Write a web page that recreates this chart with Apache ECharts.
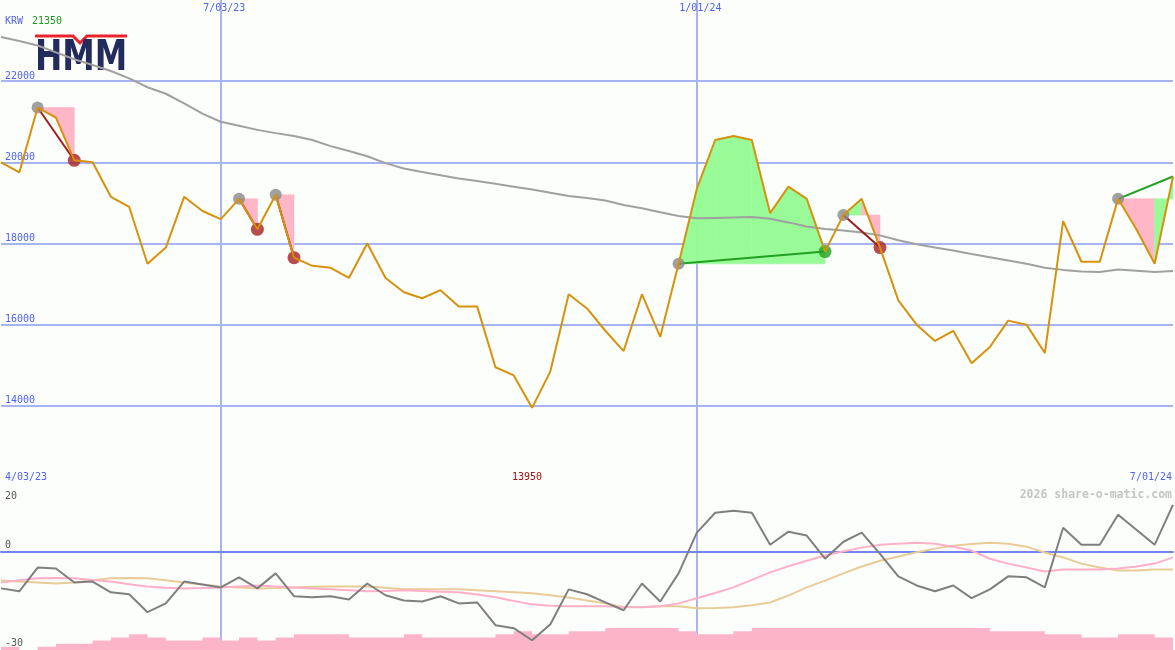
<!DOCTYPE html>
<html><head><meta charset="utf-8">
<script src="https://cdn.jsdelivr.net/npm/echarts@6/dist/echarts.min.js"></script>
<style>html,body{margin:0;padding:0;background:#fcfefc}#c{width:1175px;height:650px}</style>
</head><body><div id="c"></div>
<script>
// ---- data ----
const dates = ['4/10/23','4/17/23','4/24/23','5/01/23','5/08/23','5/15/23','5/22/23','5/29/23','6/05/23','6/12/23',
  '6/19/23','6/26/23','7/03/23','7/10/23','7/17/23','7/24/23','7/31/23','8/07/23','8/14/23','8/21/23',
  '8/28/23','9/04/23','9/11/23','9/18/23','9/25/23','10/02/23','10/09/23','10/16/23','10/23/23','10/30/23',
  '11/06/23','11/13/23','11/20/23','11/27/23','12/04/23','12/11/23','12/18/23','12/25/23','1/01/24','1/08/24',
  '1/15/24','1/22/24','1/29/24','2/05/24','2/12/24','2/19/24','2/26/24','3/04/24','3/11/24','3/18/24',
  '3/25/24','4/01/24','4/08/24','4/15/24','4/22/24','4/29/24','5/06/24','5/13/24','5/20/24','5/27/24',
  '6/03/24','6/10/24','6/17/24','6/24/24','7/01/24'];
const markDates = ['7/03/23','1/01/24'];
const rangeLabels = ['4/03/23','7/01/24'];
const currency = 'KRW';
const credit = '2026 share-o-matic.com';

const price = [20000,19750,21350,21100,20050,20000,19150,18900,17500,17900,
  19150,18800,18600,19100,18350,19200,17650,17450,17400,17150,
  18000,17150,16800,16650,16850,16450,16450,14950,14750,13950,
  14850,16750,16400,15850,15350,16750,15700,17500,19350,20550,
  20650,20550,18750,19400,19100,17800,18700,19100,17900,16600,
  16000,15600,15850,15050,15450,16100,16000,15300,18550,17550,
  17550,19100,18350,17500,19650];
const ma = [23090,22990,22880,22710,22540,22400,22250,22070,21850,21690,
  21450,21200,21000,20900,20800,20720,20650,20550,20400,20280,
  20150,19980,19850,19760,19680,19600,19540,19470,19400,19330,
  19250,19170,19120,19060,18950,18870,18770,18680,18620,18630,
  18640,18650,18610,18520,18420,18360,18320,18270,18200,18080,
  17980,17900,17830,17740,17660,17580,17500,17400,17350,17310,
  17300,17360,17330,17300,17320];
const signalStart = [2,13,15,37,46,61];
const signalEnd   = [4,14,16,45,48,64];
const signalOpen  = [false,false,false,false,false,true];

const momentum = [-11.1,-12.0,-4.7,-5.0,-9.3,-9.0,-12.3,-12.9,-18.4,-15.7,
  -9.0,-9.9,-10.8,-7.7,-11.1,-6.5,-13.5,-13.8,-13.5,-14.5,
  -9.6,-13.2,-14.8,-15.1,-13.5,-15.7,-15.4,-22.4,-23.3,-27.0,
  -22.1,-11.4,-12.9,-15.4,-17.8,-9.6,-15.1,-6.5,6.0,12.1,
  12.7,12.1,2.3,6.3,5.1,-2.0,3.2,6.0,-0.5,-7.4,
  -10.2,-12.0,-10.2,-14.1,-11.4,-7.4,-7.7,-10.8,7.5,2.3,
  2.3,11.5,6.9,2.3,14.5];
const pinkAvg = [-9.3,-8.6,-8.0,-7.9,-8.0,-8.5,-9.0,-9.8,-10.5,-10.9,
  -11.1,-11.0,-10.8,-10.5,-10.2,-10.5,-10.8,-11.1,-11.4,-11.7,
  -12.0,-11.9,-11.7,-11.9,-12.1,-12.3,-13.0,-13.8,-15.0,-16.0,
  -16.4,-16.6,-16.6,-16.6,-16.8,-16.9,-16.6,-15.7,-14.1,-12.5,
  -10.8,-8.5,-6.2,-4.3,-2.6,-1.0,0.3,1.4,2.3,2.6,
  2.9,2.6,1.7,0.5,-2.0,-3.5,-4.7,-5.9,-5.3,-5.3,
  -5.3,-5.0,-4.4,-3.5,-1.6];
const tanAvg = [-8.7,-9.0,-9.3,-9.6,-9.3,-8.6,-8.0,-7.9,-8.0,-8.6,
  -9.3,-9.9,-10.5,-10.8,-11.1,-11.0,-10.8,-10.6,-10.5,-10.5,
  -10.5,-10.9,-11.4,-11.4,-11.4,-11.4,-11.7,-12.0,-12.3,-12.6,
  -13.2,-13.9,-14.8,-15.7,-16.9,-16.8,-16.6,-16.6,-17.2,-17.1,
  -16.9,-16.3,-15.4,-13.3,-10.8,-8.7,-6.5,-4.4,-2.6,-1.3,
  0.0,1.1,2.0,2.5,2.9,2.6,1.7,-0.1,-1.6,-3.5,
  -4.7,-5.6,-5.6,-5.3,-5.3];
const volumeBars = [1,0,1,2,2,3,4,5,4,3,
  3,4,3,4,3,4,5,5,5,4,
  4,4,5,4,4,4,4,5,6,5,
  5,6,6,7,7,7,7,6,5,5,
  6,7,7,7,7,7,7,7,7,7,
  7,7,7,7,6,6,6,5,5,4,
  4,5,5,4,4];

// ---- styles ----
const MONO = '"DejaVu Sans Mono", monospace';
const BLUE = '#5062f0';
const GRIDC = '#a6b4f4';
const PINK = '#ffb6c6';
const GREEN = '#98fb98';
const isMark = (i, v) => markDates.indexOf(v) >= 0;

// fills between signal start level and price, per segment
const fillData = [];
signalStart.forEach((s, n) => {
  const e = signalEnd[n], lvl = price[s];
  for (let k = s; k < e; k++) fillData.push([k, lvl, price[k], price[k + 1], price[k + 1] > lvl ? 1 : 0]);
});
const connectorSeries = signalStart.map((s, n) => {
  const e = signalEnd[n];
  const up = price[e] > price[s];
  return {type: 'line', xAxisIndex: 0, yAxisIndex: 0, z: 3, silent: true, symbol: 'none',
    data: [[s, price[s]], [e, price[e]]],
    lineStyle: {color: up ? '#22a022' : '#a01c1c', width: 2}};
});
const startPts = signalStart.map(s => [s, price[s]]);
const endPts = [];
signalEnd.forEach((e, n) => {
  if (signalOpen[n]) return;
  const up = price[e] > price[signalStart[n]];
  endPts.push({value: [e, price[e]], itemStyle: {color: up ? '#22a022' : '#a82020'}});
});
const maxVal = Math.max(...price), minVal = Math.min(...price);

const chart = echarts.init(document.getElementById('c'));
chart.setOption({
  animation: false,
  backgroundColor: '#fcfefc',
  grid: [
    {left: 1, right: 2, top: 0, height: 487, containLabel: false, outerBoundsMode: 'none'},
    {left: 1, right: 2, top: 487, bottom: 0, containLabel: false, outerBoundsMode: 'none'}
  ],
  xAxis: [
    {type: 'category', gridIndex: 0, data: dates, boundaryGap: false, position: 'top',
      axisLine: {show: false}, axisTick: {show: false},
      axisLabel: {inside: true, interval: isMark, margin: 3, verticalAlign: 'top', padding: [0, 0, 0, 7],
        color: BLUE, fontFamily: MONO, fontSize: 10},
      splitLine: {show: true, interval: isMark, lineStyle: {color: GRIDC, width: 2}}},
    {type: 'category', gridIndex: 1, data: dates, boundaryGap: false, position: 'top',
      axisLine: {show: true, lineStyle: {color: '#7486ee', width: 2}}, axisTick: {show: false},
      axisLabel: {show: false},
      splitLine: {show: true, interval: isMark, lineStyle: {color: GRIDC, width: 2}}}
  ],
  yAxis: [
    {type: 'value', gridIndex: 0, min: 12000, max: 24000, interval: 2000,
      axisLine: {show: false}, axisTick: {show: false},
      axisLabel: {inside: true, margin: 4, verticalAlign: 'bottom', color: BLUE,
        fontFamily: MONO, fontSize: 10, showMinLabel: false, showMaxLabel: false,
        formatter: v => String(v)},
      splitLine: {show: true, showMinLine: false, showMaxLine: false, lineStyle: {color: GRIDC, width: 2}}},
    {type: 'value', gridIndex: 1, min: -30, max: 20, interval: 10,
      axisLine: {show: false}, axisTick: {show: false},
      axisLabel: {inside: true, margin: 4, verticalAlign: 'middle', lineHeight: 12,
        color: '#555', fontFamily: MONO, fontSize: 10,
        formatter: v => v === 20 ? '{dn|20}' : (v === 0 || v === -30) ? '{up|' + v + '}' : '',
        rich: {up: {padding: [0, 0, 13, 0]}, dn: {padding: [18, 0, 0, 0]}}},
      splitLine: {show: true, lineStyle: {color: ['transparent', 'transparent', 'transparent', GRIDC, 'transparent', 'transparent'], width: 2}}},
    {type: 'value', gridIndex: 1, min: 0, max: 52, show: false, splitLine: {show: false}}
  ],
  series: [
    {type: 'custom', xAxisIndex: 0, yAxisIndex: 0, z: 1, silent: true, data: fillData,
      encode: {x: 0, y: 1},
      renderItem: (params, api) => {
        const k = api.value(0), lvl = api.value(1), a = api.value(2), b = api.value(3), up = api.value(4);
        const pts = [api.coord([k, lvl]), api.coord([k, a]), api.coord([k + 1, b]), api.coord([k + 1, lvl])];
        const c = up ? GREEN : PINK;
        return {type: 'polygon', shape: {points: pts}, style: {fill: c, stroke: c, lineWidth: 0.6}};
      }},
    {type: 'line', xAxisIndex: 0, yAxisIndex: 0, z: 2, silent: true, data: ma, symbol: 'none',
      lineStyle: {color: '#a0a0a0', width: 2}},
    ...connectorSeries,
    {type: 'scatter', xAxisIndex: 0, yAxisIndex: 0, z: 4, silent: true, data: startPts,
      symbolSize: 12, itemStyle: {color: '#888888'}},
    {type: 'scatter', xAxisIndex: 0, yAxisIndex: 0, z: 4, silent: true, data: endPts, symbolSize: 13},
    {type: 'line', xAxisIndex: 0, yAxisIndex: 0, z: 5, silent: true, data: price, symbol: 'none',
      lineStyle: {color: '#d6920c', width: 2}},
    {type: 'line', xAxisIndex: 1, yAxisIndex: 2, z: 1, silent: true, data: volumeBars, step: 'end',
      symbol: 'none', lineStyle: {width: 0, opacity: 0},
      areaStyle: {color: '#fbb4c8', opacity: 1, origin: 'start'}},
    {type: 'line', xAxisIndex: 1, yAxisIndex: 1, z: 2, silent: true, data: tanAvg, symbol: 'none',
      lineStyle: {color: '#e8cc98', width: 2}},
    {type: 'line', xAxisIndex: 1, yAxisIndex: 1, z: 2, silent: true, data: pinkAvg, symbol: 'none',
      lineStyle: {color: '#ffb0c8', width: 2}},
    {type: 'line', xAxisIndex: 1, yAxisIndex: 1, z: 3, silent: true, data: momentum, symbol: 'none',
      lineStyle: {color: '#7f7f7f', width: 2}}
  ],
  graphic: [
    {type: 'polyline', z: 0, silent: true,
      shape: {points: [[35, 36], [73, 36], [80, 43], [87, 36], [127, 36]]},
      style: {stroke: '#e8232b', lineWidth: 3, fill: null}},
    {type: 'text', z: 0, silent: true, x: 35, y: 37, scaleX: 0.76,
      style: {text: 'HMM', fill: '#232a5c', font: 'bold 43px "DejaVu Sans"', textAlign: 'left', textVerticalAlign: 'top'}},
    {type: 'text', z: 10, x: 5, y: 16, style: {text: currency, fill: BLUE, font: '10px ' + MONO, textVerticalAlign: 'top'}},
    {type: 'text', z: 10, x: 32, y: 16, style: {text: String(maxVal), fill: '#1c9a1c', font: '10px ' + MONO, textVerticalAlign: 'top'}},
    {type: 'text', z: 10, x: 5, y: 472, style: {text: rangeLabels[0], fill: BLUE, font: '10px ' + MONO, textVerticalAlign: 'top'}},
    {type: 'text', z: 10, x: 1172, y: 472, style: {text: rangeLabels[1], fill: BLUE, font: '10px ' + MONO, textAlign: 'right', textVerticalAlign: 'top'}},
    {type: 'text', z: 10, x: 512, y: 472, style: {text: String(minVal), fill: '#a01010', font: '10px ' + MONO, textVerticalAlign: 'top'}},
    {type: 'text', z: 10, x: 1172, y: 489, style: {text: credit, fill: '#c4c4c4', font: 'bold 11.5px ' + MONO, textAlign: 'right', textVerticalAlign: 'top'}}
  ]
});
</script>
</body></html>
